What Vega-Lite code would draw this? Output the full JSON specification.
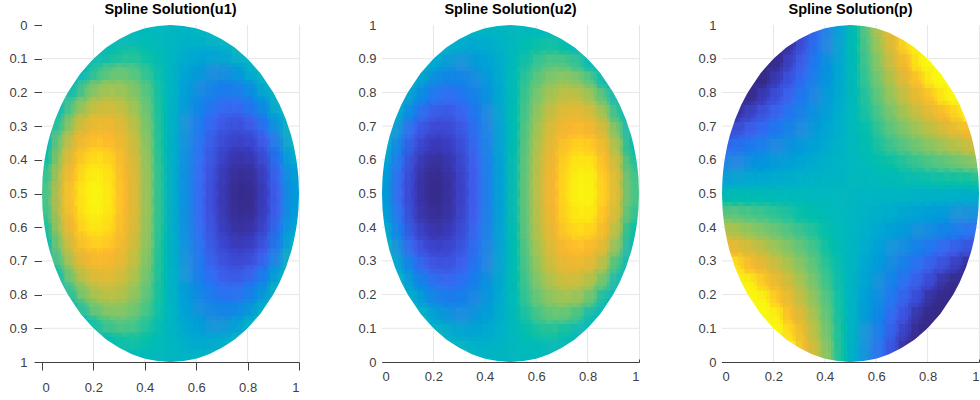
{"$schema":"https://vega.github.io/schema/vega-lite/v6.json","padding":{"left":8,"top":1,"right":1,"bottom":1},"background":"white","bounds":"flush","spacing":83,
"config":{"view":{"stroke":"#e6e6e6"},"font":"Liberation Sans","axis":{"labelFont":"Liberation Sans","labelFontSize":13,"labelColor":"#404040","domainColor":"#404040","tickColor":"#404040","grid":false,"format":".1~f","zindex":1},"title":{"font":"Liberation Sans","fontSize":14.5,"fontWeight":"bold","color":"#000000","offset":2}},
"datasets":{
"cells":[
{"x":0.275,"y":0.975,"u1":0,"u2":0,"p":-1},{"x":0.325,"y":0.975,"u1":0,"u2":0,"p":-0.78},{"x":0.375,"y":0.975,"u1":0.02,"u2":-0.02,"p":-0.56},{"x":0.425,"y":0.975,"u1":0.03,"u2":-0.03,"p":-0.34},{"x":0.475,"y":0.975,"u1":0.01,"u2":-0.01,"p":-0.11},{"x":0.525,"y":0.975,"u1":-0.01,"u2":0.01,"p":0.11},{"x":0.575,"y":0.975,"u1":-0.03,"u2":0.03,"p":0.34},{"x":0.625,"y":0.975,"u1":-0.02,"u2":0.02,"p":0.56},{"x":0.675,"y":0.975,"u1":0,"u2":0,"p":0.78},{"x":0.725,"y":0.975,"u1":0,"u2":0,"p":1},
{"x":0.225,"y":0.925,"u1":0,"u2":0,"p":-1},{"x":0.275,"y":0.925,"u1":0.09,"u2":-0.09,"p":-0.9},{"x":0.325,"y":0.925,"u1":0.14,"u2":-0.14,"p":-0.7},{"x":0.375,"y":0.925,"u1":0.14,"u2":-0.14,"p":-0.5},{"x":0.425,"y":0.925,"u1":0.1,"u2":-0.1,"p":-0.3},{"x":0.475,"y":0.925,"u1":0.04,"u2":-0.04,"p":-0.1},{"x":0.525,"y":0.925,"u1":-0.04,"u2":0.04,"p":0.1},{"x":0.575,"y":0.925,"u1":-0.1,"u2":0.1,"p":0.3},{"x":0.625,"y":0.925,"u1":-0.14,"u2":0.14,"p":0.5},{"x":0.675,"y":0.925,"u1":-0.14,"u2":0.14,"p":0.7},{"x":0.725,"y":0.925,"u1":-0.09,"u2":0.09,"p":0.9},{"x":0.775,"y":0.925,"u1":0,"u2":0,"p":1},
{"x":0.125,"y":0.875,"u1":0,"u2":0,"p":-1},{"x":0.175,"y":0.875,"u1":0.02,"u2":-0.02,"p":-1},{"x":0.225,"y":0.875,"u1":0.19,"u2":-0.19,"p":-0.97},{"x":0.275,"y":0.875,"u1":0.27,"u2":-0.27,"p":-0.79},{"x":0.325,"y":0.875,"u1":0.29,"u2":-0.29,"p":-0.62},{"x":0.375,"y":0.875,"u1":0.24,"u2":-0.24,"p":-0.44},{"x":0.425,"y":0.875,"u1":0.16,"u2":-0.16,"p":-0.26},{"x":0.475,"y":0.875,"u1":0.06,"u2":-0.06,"p":-0.09},{"x":0.525,"y":0.875,"u1":-0.06,"u2":0.06,"p":0.09},{"x":0.575,"y":0.875,"u1":-0.16,"u2":0.16,"p":0.26},{"x":0.625,"y":0.875,"u1":-0.24,"u2":0.24,"p":0.44},{"x":0.675,"y":0.875,"u1":-0.29,"u2":0.29,"p":0.62},{"x":0.725,"y":0.875,"u1":-0.27,"u2":0.27,"p":0.79},{"x":0.775,"y":0.875,"u1":-0.19,"u2":0.19,"p":0.97},{"x":0.825,"y":0.875,"u1":-0.02,"u2":0.02,"p":1},{"x":0.875,"y":0.875,"u1":0,"u2":0,"p":1},
{"x":0.125,"y":0.825,"u1":0.03,"u2":-0.03,"p":-1},{"x":0.175,"y":0.825,"u1":0.26,"u2":-0.26,"p":-0.99},{"x":0.225,"y":0.825,"u1":0.39,"u2":-0.39,"p":-0.84},{"x":0.275,"y":0.825,"u1":0.44,"u2":-0.44,"p":-0.69},{"x":0.325,"y":0.825,"u1":0.41,"u2":-0.41,"p":-0.54},{"x":0.375,"y":0.825,"u1":0.33,"u2":-0.33,"p":-0.38},{"x":0.425,"y":0.825,"u1":0.22,"u2":-0.22,"p":-0.23},{"x":0.475,"y":0.825,"u1":0.07,"u2":-0.07,"p":-0.08},{"x":0.525,"y":0.825,"u1":-0.07,"u2":0.07,"p":0.08},{"x":0.575,"y":0.825,"u1":-0.22,"u2":0.22,"p":0.23},{"x":0.625,"y":0.825,"u1":-0.33,"u2":0.33,"p":0.38},{"x":0.675,"y":0.825,"u1":-0.41,"u2":0.41,"p":0.54},{"x":0.725,"y":0.825,"u1":-0.44,"u2":0.44,"p":0.69},{"x":0.775,"y":0.825,"u1":-0.39,"u2":0.39,"p":0.84},{"x":0.825,"y":0.825,"u1":-0.26,"u2":0.26,"p":0.99},{"x":0.875,"y":0.825,"u1":-0.03,"u2":0.03,"p":1},
{"x":0.075,"y":0.775,"u1":0,"u2":0,"p":-1},{"x":0.125,"y":0.775,"u1":0.26,"u2":-0.26,"p":-0.97},{"x":0.175,"y":0.775,"u1":0.46,"u2":-0.46,"p":-0.84},{"x":0.225,"y":0.775,"u1":0.56,"u2":-0.56,"p":-0.71},{"x":0.275,"y":0.775,"u1":0.58,"u2":-0.58,"p":-0.58},{"x":0.325,"y":0.775,"u1":0.52,"u2":-0.52,"p":-0.45},{"x":0.375,"y":0.775,"u1":0.41,"u2":-0.41,"p":-0.32},{"x":0.425,"y":0.775,"u1":0.26,"u2":-0.26,"p":-0.19},{"x":0.475,"y":0.775,"u1":0.09,"u2":-0.09,"p":-0.06},{"x":0.525,"y":0.775,"u1":-0.09,"u2":0.09,"p":0.06},{"x":0.575,"y":0.775,"u1":-0.26,"u2":0.26,"p":0.19},{"x":0.625,"y":0.775,"u1":-0.41,"u2":0.41,"p":0.32},{"x":0.675,"y":0.775,"u1":-0.52,"u2":0.52,"p":0.45},{"x":0.725,"y":0.775,"u1":-0.58,"u2":0.58,"p":0.58},{"x":0.775,"y":0.775,"u1":-0.56,"u2":0.56,"p":0.71},{"x":0.825,"y":0.775,"u1":-0.46,"u2":0.46,"p":0.84},{"x":0.875,"y":0.775,"u1":-0.26,"u2":0.26,"p":0.97},{"x":0.925,"y":0.775,"u1":0,"u2":0,"p":1},
{"x":0.025,"y":0.725,"u1":0,"u2":0,"p":-1},{"x":0.075,"y":0.725,"u1":0.17,"u2":-0.17,"p":-0.9},{"x":0.125,"y":0.725,"u1":0.46,"u2":-0.46,"p":-0.79},{"x":0.175,"y":0.725,"u1":0.63,"u2":-0.63,"p":-0.69},{"x":0.225,"y":0.725,"u1":0.71,"u2":-0.71,"p":-0.58},{"x":0.275,"y":0.725,"u1":0.7,"u2":-0.7,"p":-0.48},{"x":0.325,"y":0.725,"u1":0.61,"u2":-0.61,"p":-0.37},{"x":0.375,"y":0.725,"u1":0.48,"u2":-0.48,"p":-0.26},{"x":0.425,"y":0.725,"u1":0.3,"u2":-0.3,"p":-0.16},{"x":0.475,"y":0.725,"u1":0.1,"u2":-0.1,"p":-0.05},{"x":0.525,"y":0.725,"u1":-0.1,"u2":0.1,"p":0.05},{"x":0.575,"y":0.725,"u1":-0.3,"u2":0.3,"p":0.16},{"x":0.625,"y":0.725,"u1":-0.48,"u2":0.48,"p":0.26},{"x":0.675,"y":0.725,"u1":-0.61,"u2":0.61,"p":0.37},{"x":0.725,"y":0.725,"u1":-0.7,"u2":0.7,"p":0.48},{"x":0.775,"y":0.725,"u1":-0.71,"u2":0.71,"p":0.58},{"x":0.825,"y":0.725,"u1":-0.63,"u2":0.63,"p":0.69},{"x":0.875,"y":0.725,"u1":-0.46,"u2":0.46,"p":0.79},{"x":0.925,"y":0.725,"u1":-0.17,"u2":0.17,"p":0.9},{"x":0.975,"y":0.725,"u1":0,"u2":0,"p":1},
{"x":0.025,"y":0.675,"u1":0,"u2":0,"p":-0.78},{"x":0.075,"y":0.675,"u1":0.34,"u2":-0.34,"p":-0.7},{"x":0.125,"y":0.675,"u1":0.61,"u2":-0.61,"p":-0.62},{"x":0.175,"y":0.675,"u1":0.77,"u2":-0.77,"p":-0.54},{"x":0.225,"y":0.675,"u1":0.82,"u2":-0.82,"p":-0.45},{"x":0.275,"y":0.675,"u1":0.79,"u2":-0.79,"p":-0.37},{"x":0.325,"y":0.675,"u1":0.69,"u2":-0.69,"p":-0.29},{"x":0.375,"y":0.675,"u1":0.53,"u2":-0.53,"p":-0.21},{"x":0.425,"y":0.675,"u1":0.33,"u2":-0.33,"p":-0.12},{"x":0.475,"y":0.675,"u1":0.11,"u2":-0.11,"p":-0.04},{"x":0.525,"y":0.675,"u1":-0.11,"u2":0.11,"p":0.04},{"x":0.575,"y":0.675,"u1":-0.33,"u2":0.33,"p":0.12},{"x":0.625,"y":0.675,"u1":-0.53,"u2":0.53,"p":0.21},{"x":0.675,"y":0.675,"u1":-0.69,"u2":0.69,"p":0.29},{"x":0.725,"y":0.675,"u1":-0.79,"u2":0.79,"p":0.37},{"x":0.775,"y":0.675,"u1":-0.82,"u2":0.82,"p":0.45},{"x":0.825,"y":0.675,"u1":-0.77,"u2":0.77,"p":0.54},{"x":0.875,"y":0.675,"u1":-0.61,"u2":0.61,"p":0.62},{"x":0.925,"y":0.675,"u1":-0.34,"u2":0.34,"p":0.7},{"x":0.975,"y":0.675,"u1":0,"u2":0,"p":0.78},
{"x":0.025,"y":0.625,"u1":0.09,"u2":-0.09,"p":-0.56},{"x":0.075,"y":0.625,"u1":0.47,"u2":-0.47,"p":-0.5},{"x":0.125,"y":0.625,"u1":0.73,"u2":-0.73,"p":-0.44},{"x":0.175,"y":0.625,"u1":0.87,"u2":-0.87,"p":-0.38},{"x":0.225,"y":0.625,"u1":0.91,"u2":-0.91,"p":-0.32},{"x":0.275,"y":0.625,"u1":0.86,"u2":-0.86,"p":-0.26},{"x":0.325,"y":0.625,"u1":0.74,"u2":-0.74,"p":-0.21},{"x":0.375,"y":0.625,"u1":0.57,"u2":-0.57,"p":-0.15},{"x":0.425,"y":0.625,"u1":0.36,"u2":-0.36,"p":-0.09},{"x":0.475,"y":0.625,"u1":0.12,"u2":-0.12,"p":-0.03},{"x":0.525,"y":0.625,"u1":-0.12,"u2":0.12,"p":0.03},{"x":0.575,"y":0.625,"u1":-0.36,"u2":0.36,"p":0.09},{"x":0.625,"y":0.625,"u1":-0.57,"u2":0.57,"p":0.15},{"x":0.675,"y":0.625,"u1":-0.74,"u2":0.74,"p":0.21},{"x":0.725,"y":0.625,"u1":-0.86,"u2":0.86,"p":0.26},{"x":0.775,"y":0.625,"u1":-0.91,"u2":0.91,"p":0.32},{"x":0.825,"y":0.625,"u1":-0.87,"u2":0.87,"p":0.38},{"x":0.875,"y":0.625,"u1":-0.73,"u2":0.73,"p":0.44},{"x":0.925,"y":0.625,"u1":-0.47,"u2":0.47,"p":0.5},{"x":0.975,"y":0.625,"u1":-0.09,"u2":0.09,"p":0.56},
{"x":0.025,"y":0.575,"u1":0.19,"u2":-0.19,"p":-0.34},{"x":0.075,"y":0.575,"u1":0.56,"u2":-0.56,"p":-0.3},{"x":0.125,"y":0.575,"u1":0.81,"u2":-0.81,"p":-0.26},{"x":0.175,"y":0.575,"u1":0.94,"u2":-0.94,"p":-0.23},{"x":0.225,"y":0.575,"u1":0.96,"u2":-0.96,"p":-0.19},{"x":0.275,"y":0.575,"u1":0.91,"u2":-0.91,"p":-0.16},{"x":0.325,"y":0.575,"u1":0.78,"u2":-0.78,"p":-0.12},{"x":0.375,"y":0.575,"u1":0.6,"u2":-0.6,"p":-0.09},{"x":0.425,"y":0.575,"u1":0.37,"u2":-0.37,"p":-0.05},{"x":0.475,"y":0.575,"u1":0.13,"u2":-0.13,"p":-0.02},{"x":0.525,"y":0.575,"u1":-0.13,"u2":0.13,"p":0.02},{"x":0.575,"y":0.575,"u1":-0.37,"u2":0.37,"p":0.05},{"x":0.625,"y":0.575,"u1":-0.6,"u2":0.6,"p":0.09},{"x":0.675,"y":0.575,"u1":-0.78,"u2":0.78,"p":0.12},{"x":0.725,"y":0.575,"u1":-0.91,"u2":0.91,"p":0.16},{"x":0.775,"y":0.575,"u1":-0.96,"u2":0.96,"p":0.19},{"x":0.825,"y":0.575,"u1":-0.94,"u2":0.94,"p":0.23},{"x":0.875,"y":0.575,"u1":-0.81,"u2":0.81,"p":0.26},{"x":0.925,"y":0.575,"u1":-0.56,"u2":0.56,"p":0.3},{"x":0.975,"y":0.575,"u1":-0.19,"u2":0.19,"p":0.34},
{"x":0.025,"y":0.525,"u1":0.24,"u2":-0.24,"p":-0.11},{"x":0.075,"y":0.525,"u1":0.61,"u2":-0.61,"p":-0.1},{"x":0.125,"y":0.525,"u1":0.85,"u2":-0.85,"p":-0.09},{"x":0.175,"y":0.525,"u1":0.97,"u2":-0.97,"p":-0.08},{"x":0.225,"y":0.525,"u1":0.99,"u2":-0.99,"p":-0.06},{"x":0.275,"y":0.525,"u1":0.93,"u2":-0.93,"p":-0.05},{"x":0.325,"y":0.525,"u1":0.8,"u2":-0.8,"p":-0.04},{"x":0.375,"y":0.525,"u1":0.61,"u2":-0.61,"p":-0.03},{"x":0.425,"y":0.525,"u1":0.38,"u2":-0.38,"p":-0.02},{"x":0.475,"y":0.525,"u1":0.13,"u2":-0.13,"p":-0.01},{"x":0.525,"y":0.525,"u1":-0.13,"u2":0.13,"p":0.01},{"x":0.575,"y":0.525,"u1":-0.38,"u2":0.38,"p":0.02},{"x":0.625,"y":0.525,"u1":-0.61,"u2":0.61,"p":0.03},{"x":0.675,"y":0.525,"u1":-0.8,"u2":0.8,"p":0.04},{"x":0.725,"y":0.525,"u1":-0.93,"u2":0.93,"p":0.05},{"x":0.775,"y":0.525,"u1":-0.99,"u2":0.99,"p":0.06},{"x":0.825,"y":0.525,"u1":-0.97,"u2":0.97,"p":0.08},{"x":0.875,"y":0.525,"u1":-0.85,"u2":0.85,"p":0.09},{"x":0.925,"y":0.525,"u1":-0.61,"u2":0.61,"p":0.1},{"x":0.975,"y":0.525,"u1":-0.24,"u2":0.24,"p":0.11},
{"x":0.025,"y":0.475,"u1":0.24,"u2":-0.24,"p":0.11},{"x":0.075,"y":0.475,"u1":0.61,"u2":-0.61,"p":0.1},{"x":0.125,"y":0.475,"u1":0.85,"u2":-0.85,"p":0.09},{"x":0.175,"y":0.475,"u1":0.97,"u2":-0.97,"p":0.08},{"x":0.225,"y":0.475,"u1":0.99,"u2":-0.99,"p":0.06},{"x":0.275,"y":0.475,"u1":0.93,"u2":-0.93,"p":0.05},{"x":0.325,"y":0.475,"u1":0.8,"u2":-0.8,"p":0.04},{"x":0.375,"y":0.475,"u1":0.61,"u2":-0.61,"p":0.03},{"x":0.425,"y":0.475,"u1":0.38,"u2":-0.38,"p":0.02},{"x":0.475,"y":0.475,"u1":0.13,"u2":-0.13,"p":0.01},{"x":0.525,"y":0.475,"u1":-0.13,"u2":0.13,"p":-0.01},{"x":0.575,"y":0.475,"u1":-0.38,"u2":0.38,"p":-0.02},{"x":0.625,"y":0.475,"u1":-0.61,"u2":0.61,"p":-0.03},{"x":0.675,"y":0.475,"u1":-0.8,"u2":0.8,"p":-0.04},{"x":0.725,"y":0.475,"u1":-0.93,"u2":0.93,"p":-0.05},{"x":0.775,"y":0.475,"u1":-0.99,"u2":0.99,"p":-0.06},{"x":0.825,"y":0.475,"u1":-0.97,"u2":0.97,"p":-0.08},{"x":0.875,"y":0.475,"u1":-0.85,"u2":0.85,"p":-0.09},{"x":0.925,"y":0.475,"u1":-0.61,"u2":0.61,"p":-0.1},{"x":0.975,"y":0.475,"u1":-0.24,"u2":0.24,"p":-0.11},
{"x":0.025,"y":0.425,"u1":0.19,"u2":-0.19,"p":0.34},{"x":0.075,"y":0.425,"u1":0.56,"u2":-0.56,"p":0.3},{"x":0.125,"y":0.425,"u1":0.81,"u2":-0.81,"p":0.26},{"x":0.175,"y":0.425,"u1":0.94,"u2":-0.94,"p":0.23},{"x":0.225,"y":0.425,"u1":0.96,"u2":-0.96,"p":0.19},{"x":0.275,"y":0.425,"u1":0.91,"u2":-0.91,"p":0.16},{"x":0.325,"y":0.425,"u1":0.78,"u2":-0.78,"p":0.12},{"x":0.375,"y":0.425,"u1":0.6,"u2":-0.6,"p":0.09},{"x":0.425,"y":0.425,"u1":0.37,"u2":-0.37,"p":0.05},{"x":0.475,"y":0.425,"u1":0.13,"u2":-0.13,"p":0.02},{"x":0.525,"y":0.425,"u1":-0.13,"u2":0.13,"p":-0.02},{"x":0.575,"y":0.425,"u1":-0.37,"u2":0.37,"p":-0.05},{"x":0.625,"y":0.425,"u1":-0.6,"u2":0.6,"p":-0.09},{"x":0.675,"y":0.425,"u1":-0.78,"u2":0.78,"p":-0.12},{"x":0.725,"y":0.425,"u1":-0.91,"u2":0.91,"p":-0.16},{"x":0.775,"y":0.425,"u1":-0.96,"u2":0.96,"p":-0.19},{"x":0.825,"y":0.425,"u1":-0.94,"u2":0.94,"p":-0.23},{"x":0.875,"y":0.425,"u1":-0.81,"u2":0.81,"p":-0.26},{"x":0.925,"y":0.425,"u1":-0.56,"u2":0.56,"p":-0.3},{"x":0.975,"y":0.425,"u1":-0.19,"u2":0.19,"p":-0.34},
{"x":0.025,"y":0.375,"u1":0.09,"u2":-0.09,"p":0.56},{"x":0.075,"y":0.375,"u1":0.47,"u2":-0.47,"p":0.5},{"x":0.125,"y":0.375,"u1":0.73,"u2":-0.73,"p":0.44},{"x":0.175,"y":0.375,"u1":0.87,"u2":-0.87,"p":0.38},{"x":0.225,"y":0.375,"u1":0.91,"u2":-0.91,"p":0.32},{"x":0.275,"y":0.375,"u1":0.86,"u2":-0.86,"p":0.26},{"x":0.325,"y":0.375,"u1":0.74,"u2":-0.74,"p":0.21},{"x":0.375,"y":0.375,"u1":0.57,"u2":-0.57,"p":0.15},{"x":0.425,"y":0.375,"u1":0.36,"u2":-0.36,"p":0.09},{"x":0.475,"y":0.375,"u1":0.12,"u2":-0.12,"p":0.03},{"x":0.525,"y":0.375,"u1":-0.12,"u2":0.12,"p":-0.03},{"x":0.575,"y":0.375,"u1":-0.36,"u2":0.36,"p":-0.09},{"x":0.625,"y":0.375,"u1":-0.57,"u2":0.57,"p":-0.15},{"x":0.675,"y":0.375,"u1":-0.74,"u2":0.74,"p":-0.21},{"x":0.725,"y":0.375,"u1":-0.86,"u2":0.86,"p":-0.26},{"x":0.775,"y":0.375,"u1":-0.91,"u2":0.91,"p":-0.32},{"x":0.825,"y":0.375,"u1":-0.87,"u2":0.87,"p":-0.38},{"x":0.875,"y":0.375,"u1":-0.73,"u2":0.73,"p":-0.44},{"x":0.925,"y":0.375,"u1":-0.47,"u2":0.47,"p":-0.5},{"x":0.975,"y":0.375,"u1":-0.09,"u2":0.09,"p":-0.56},
{"x":0.025,"y":0.325,"u1":0,"u2":0,"p":0.78},{"x":0.075,"y":0.325,"u1":0.34,"u2":-0.34,"p":0.7},{"x":0.125,"y":0.325,"u1":0.61,"u2":-0.61,"p":0.62},{"x":0.175,"y":0.325,"u1":0.77,"u2":-0.77,"p":0.54},{"x":0.225,"y":0.325,"u1":0.82,"u2":-0.82,"p":0.45},{"x":0.275,"y":0.325,"u1":0.79,"u2":-0.79,"p":0.37},{"x":0.325,"y":0.325,"u1":0.69,"u2":-0.69,"p":0.29},{"x":0.375,"y":0.325,"u1":0.53,"u2":-0.53,"p":0.21},{"x":0.425,"y":0.325,"u1":0.33,"u2":-0.33,"p":0.12},{"x":0.475,"y":0.325,"u1":0.11,"u2":-0.11,"p":0.04},{"x":0.525,"y":0.325,"u1":-0.11,"u2":0.11,"p":-0.04},{"x":0.575,"y":0.325,"u1":-0.33,"u2":0.33,"p":-0.12},{"x":0.625,"y":0.325,"u1":-0.53,"u2":0.53,"p":-0.21},{"x":0.675,"y":0.325,"u1":-0.69,"u2":0.69,"p":-0.29},{"x":0.725,"y":0.325,"u1":-0.79,"u2":0.79,"p":-0.37},{"x":0.775,"y":0.325,"u1":-0.82,"u2":0.82,"p":-0.45},{"x":0.825,"y":0.325,"u1":-0.77,"u2":0.77,"p":-0.54},{"x":0.875,"y":0.325,"u1":-0.61,"u2":0.61,"p":-0.62},{"x":0.925,"y":0.325,"u1":-0.34,"u2":0.34,"p":-0.7},{"x":0.975,"y":0.325,"u1":0,"u2":0,"p":-0.78},
{"x":0.025,"y":0.275,"u1":0,"u2":0,"p":1},{"x":0.075,"y":0.275,"u1":0.17,"u2":-0.17,"p":0.9},{"x":0.125,"y":0.275,"u1":0.46,"u2":-0.46,"p":0.79},{"x":0.175,"y":0.275,"u1":0.63,"u2":-0.63,"p":0.69},{"x":0.225,"y":0.275,"u1":0.71,"u2":-0.71,"p":0.58},{"x":0.275,"y":0.275,"u1":0.7,"u2":-0.7,"p":0.48},{"x":0.325,"y":0.275,"u1":0.61,"u2":-0.61,"p":0.37},{"x":0.375,"y":0.275,"u1":0.48,"u2":-0.48,"p":0.26},{"x":0.425,"y":0.275,"u1":0.3,"u2":-0.3,"p":0.16},{"x":0.475,"y":0.275,"u1":0.1,"u2":-0.1,"p":0.05},{"x":0.525,"y":0.275,"u1":-0.1,"u2":0.1,"p":-0.05},{"x":0.575,"y":0.275,"u1":-0.3,"u2":0.3,"p":-0.16},{"x":0.625,"y":0.275,"u1":-0.48,"u2":0.48,"p":-0.26},{"x":0.675,"y":0.275,"u1":-0.61,"u2":0.61,"p":-0.37},{"x":0.725,"y":0.275,"u1":-0.7,"u2":0.7,"p":-0.48},{"x":0.775,"y":0.275,"u1":-0.71,"u2":0.71,"p":-0.58},{"x":0.825,"y":0.275,"u1":-0.63,"u2":0.63,"p":-0.69},{"x":0.875,"y":0.275,"u1":-0.46,"u2":0.46,"p":-0.79},{"x":0.925,"y":0.275,"u1":-0.17,"u2":0.17,"p":-0.9},{"x":0.975,"y":0.275,"u1":0,"u2":0,"p":-1},
{"x":0.075,"y":0.225,"u1":0,"u2":0,"p":1},{"x":0.125,"y":0.225,"u1":0.26,"u2":-0.26,"p":0.97},{"x":0.175,"y":0.225,"u1":0.46,"u2":-0.46,"p":0.84},{"x":0.225,"y":0.225,"u1":0.56,"u2":-0.56,"p":0.71},{"x":0.275,"y":0.225,"u1":0.58,"u2":-0.58,"p":0.58},{"x":0.325,"y":0.225,"u1":0.52,"u2":-0.52,"p":0.45},{"x":0.375,"y":0.225,"u1":0.41,"u2":-0.41,"p":0.32},{"x":0.425,"y":0.225,"u1":0.26,"u2":-0.26,"p":0.19},{"x":0.475,"y":0.225,"u1":0.09,"u2":-0.09,"p":0.06},{"x":0.525,"y":0.225,"u1":-0.09,"u2":0.09,"p":-0.06},{"x":0.575,"y":0.225,"u1":-0.26,"u2":0.26,"p":-0.19},{"x":0.625,"y":0.225,"u1":-0.41,"u2":0.41,"p":-0.32},{"x":0.675,"y":0.225,"u1":-0.52,"u2":0.52,"p":-0.45},{"x":0.725,"y":0.225,"u1":-0.58,"u2":0.58,"p":-0.58},{"x":0.775,"y":0.225,"u1":-0.56,"u2":0.56,"p":-0.71},{"x":0.825,"y":0.225,"u1":-0.46,"u2":0.46,"p":-0.84},{"x":0.875,"y":0.225,"u1":-0.26,"u2":0.26,"p":-0.97},{"x":0.925,"y":0.225,"u1":0,"u2":0,"p":-1},
{"x":0.125,"y":0.175,"u1":0.03,"u2":-0.03,"p":1},{"x":0.175,"y":0.175,"u1":0.26,"u2":-0.26,"p":0.99},{"x":0.225,"y":0.175,"u1":0.39,"u2":-0.39,"p":0.84},{"x":0.275,"y":0.175,"u1":0.44,"u2":-0.44,"p":0.69},{"x":0.325,"y":0.175,"u1":0.41,"u2":-0.41,"p":0.54},{"x":0.375,"y":0.175,"u1":0.33,"u2":-0.33,"p":0.38},{"x":0.425,"y":0.175,"u1":0.22,"u2":-0.22,"p":0.23},{"x":0.475,"y":0.175,"u1":0.07,"u2":-0.07,"p":0.08},{"x":0.525,"y":0.175,"u1":-0.07,"u2":0.07,"p":-0.08},{"x":0.575,"y":0.175,"u1":-0.22,"u2":0.22,"p":-0.23},{"x":0.625,"y":0.175,"u1":-0.33,"u2":0.33,"p":-0.38},{"x":0.675,"y":0.175,"u1":-0.41,"u2":0.41,"p":-0.54},{"x":0.725,"y":0.175,"u1":-0.44,"u2":0.44,"p":-0.69},{"x":0.775,"y":0.175,"u1":-0.39,"u2":0.39,"p":-0.84},{"x":0.825,"y":0.175,"u1":-0.26,"u2":0.26,"p":-0.99},{"x":0.875,"y":0.175,"u1":-0.03,"u2":0.03,"p":-1},
{"x":0.125,"y":0.125,"u1":0,"u2":0,"p":1},{"x":0.175,"y":0.125,"u1":0.02,"u2":-0.02,"p":1},{"x":0.225,"y":0.125,"u1":0.19,"u2":-0.19,"p":0.97},{"x":0.275,"y":0.125,"u1":0.27,"u2":-0.27,"p":0.79},{"x":0.325,"y":0.125,"u1":0.29,"u2":-0.29,"p":0.62},{"x":0.375,"y":0.125,"u1":0.24,"u2":-0.24,"p":0.44},{"x":0.425,"y":0.125,"u1":0.16,"u2":-0.16,"p":0.26},{"x":0.475,"y":0.125,"u1":0.06,"u2":-0.06,"p":0.09},{"x":0.525,"y":0.125,"u1":-0.06,"u2":0.06,"p":-0.09},{"x":0.575,"y":0.125,"u1":-0.16,"u2":0.16,"p":-0.26},{"x":0.625,"y":0.125,"u1":-0.24,"u2":0.24,"p":-0.44},{"x":0.675,"y":0.125,"u1":-0.29,"u2":0.29,"p":-0.62},{"x":0.725,"y":0.125,"u1":-0.27,"u2":0.27,"p":-0.79},{"x":0.775,"y":0.125,"u1":-0.19,"u2":0.19,"p":-0.97},{"x":0.825,"y":0.125,"u1":-0.02,"u2":0.02,"p":-1},{"x":0.875,"y":0.125,"u1":0,"u2":0,"p":-1},
{"x":0.225,"y":0.075,"u1":0,"u2":0,"p":1},{"x":0.275,"y":0.075,"u1":0.09,"u2":-0.09,"p":0.9},{"x":0.325,"y":0.075,"u1":0.14,"u2":-0.14,"p":0.7},{"x":0.375,"y":0.075,"u1":0.14,"u2":-0.14,"p":0.5},{"x":0.425,"y":0.075,"u1":0.1,"u2":-0.1,"p":0.3},{"x":0.475,"y":0.075,"u1":0.04,"u2":-0.04,"p":0.1},{"x":0.525,"y":0.075,"u1":-0.04,"u2":0.04,"p":-0.1},{"x":0.575,"y":0.075,"u1":-0.1,"u2":0.1,"p":-0.3},{"x":0.625,"y":0.075,"u1":-0.14,"u2":0.14,"p":-0.5},{"x":0.675,"y":0.075,"u1":-0.14,"u2":0.14,"p":-0.7},{"x":0.725,"y":0.075,"u1":-0.09,"u2":0.09,"p":-0.9},{"x":0.775,"y":0.075,"u1":0,"u2":0,"p":-1},
{"x":0.275,"y":0.025,"u1":0,"u2":0,"p":1},{"x":0.325,"y":0.025,"u1":0,"u2":0,"p":0.78},{"x":0.375,"y":0.025,"u1":0.02,"u2":-0.02,"p":0.56},{"x":0.425,"y":0.025,"u1":0.03,"u2":-0.03,"p":0.34},{"x":0.475,"y":0.025,"u1":0.01,"u2":-0.01,"p":0.11},{"x":0.525,"y":0.025,"u1":-0.01,"u2":0.01,"p":-0.11},{"x":0.575,"y":0.025,"u1":-0.03,"u2":0.03,"p":-0.34},{"x":0.625,"y":0.025,"u1":-0.02,"u2":0.02,"p":-0.56},{"x":0.675,"y":0.025,"u1":0,"u2":0,"p":-0.78},{"x":0.725,"y":0.025,"u1":0,"u2":0,"p":-1}
],
"edgeTop":[{"x":0,"y":0.5},{"x":0.002,"y":0.545},{"x":0.005,"y":0.57},{"x":0.01,"y":0.6},{"x":0.02,"y":0.64},{"x":0.03,"y":0.671},{"x":0.05,"y":0.718},{"x":0.075,"y":0.763},{"x":0.1,"y":0.8},{"x":0.15,"y":0.857},{"x":0.2,"y":0.9},{"x":0.25,"y":0.933},{"x":0.3,"y":0.958},{"x":0.35,"y":0.977},{"x":0.4,"y":0.99},{"x":0.45,"y":0.997},{"x":0.5,"y":1},{"x":0.55,"y":0.997},{"x":0.6,"y":0.99},{"x":0.65,"y":0.977},{"x":0.7,"y":0.958},{"x":0.75,"y":0.933},{"x":0.8,"y":0.9},{"x":0.85,"y":0.857},{"x":0.9,"y":0.8},{"x":0.925,"y":0.763},{"x":0.95,"y":0.718},{"x":0.97,"y":0.671},{"x":0.98,"y":0.64},{"x":0.99,"y":0.6},{"x":0.995,"y":0.57},{"x":0.998,"y":0.545},{"x":1,"y":0.5}],
"edgeBot":[{"x":0,"y":0.5},{"x":0.002,"y":0.455},{"x":0.005,"y":0.43},{"x":0.01,"y":0.4},{"x":0.02,"y":0.36},{"x":0.03,"y":0.329},{"x":0.05,"y":0.282},{"x":0.075,"y":0.237},{"x":0.1,"y":0.2},{"x":0.15,"y":0.143},{"x":0.2,"y":0.1},{"x":0.25,"y":0.067},{"x":0.3,"y":0.042},{"x":0.35,"y":0.023},{"x":0.4,"y":0.01},{"x":0.45,"y":0.003},{"x":0.5,"y":0},{"x":0.55,"y":0.003},{"x":0.6,"y":0.01},{"x":0.65,"y":0.023},{"x":0.7,"y":0.042},{"x":0.75,"y":0.067},{"x":0.8,"y":0.1},{"x":0.85,"y":0.143},{"x":0.9,"y":0.2},{"x":0.925,"y":0.237},{"x":0.95,"y":0.282},{"x":0.97,"y":0.329},{"x":0.98,"y":0.36},{"x":0.99,"y":0.4},{"x":0.995,"y":0.43},{"x":0.998,"y":0.455},{"x":1,"y":0.5}],
"gridV":[{"x":0.2,"y":0,"y2":0.1},{"x":0.2,"y":0.9,"y2":1},{"x":0.4,"y":0,"y2":0.01},{"x":0.4,"y":0.99,"y2":1},{"x":0.6,"y":0,"y2":0.01},{"x":0.6,"y":0.99,"y2":1},{"x":0.8,"y":0,"y2":0.1},{"x":0.8,"y":0.9,"y2":1}],
"gridH":[{"y":0.1,"x":0,"x2":0.2},{"y":0.1,"x":0.8,"x2":1},{"y":0.2,"x":0,"x2":0.1},{"y":0.2,"x":0.9,"x2":1},{"y":0.3,"x":0,"x2":0.042},{"y":0.3,"x":0.958,"x2":1},{"y":0.4,"x":0,"x2":0.01},{"y":0.4,"x":0.99,"x2":1},{"y":0.6,"x":0,"x2":0.01},{"y":0.6,"x":0.99,"x2":1},{"y":0.7,"x":0,"x2":0.042},{"y":0.7,"x":0.958,"x2":1},{"y":0.8,"x":0,"x2":0.1},{"y":0.8,"x":0.9,"x2":1},{"y":0.9,"x":0,"x2":0.2},{"y":0.9,"x":0.8,"x2":1}]
},
"hconcat":[
{"width":257,"height":337,"title":"Spline Solution(u1)",
"encoding":{"x":{"field":"x","type":"quantitative","scale":{"domain":[0,1],"nice":false},"axis":{"title":null,"tickSize":8,"labelPadding":11,"labelAngle":0,"values":[0,0.2,0.4,0.6,0.8,1]}},"y":{"field":"y","type":"quantitative","scale":{"domain":[0,1],"nice":false,"reverse":true},"axis":{"title":null,"tickSize":8,"labelPadding":7,"values":[0,0.1,0.2,0.3,0.4,0.5,0.6,0.7,0.8,0.9,1]}}},
"layer":[
{"data":{"name":"cells"},"mark":{"type":"rect","width":13.4,"height":17.4,"clip":true},"encoding":{"color":{"field":"u1","type":"quantitative","legend":null,"scale":{"domain":[-1,-0.85,-0.6,-0.3,0,0.2,0.4,0.6,0.8,1],"range":["#352a87","#3a3fc8","#3d68f5","#2a8fdc","#0db7c0","#35c491","#8cc663","#d2bc3c","#fdb52f","#f8fa10"]}}}},
{"data":{"name":"cells"},"mark":{"type":"rect","width":25.7,"height":33.7,"clip":true,"opacity":0.5},"encoding":{"color":{"field":"u1","type":"quantitative"}}},
{"data":{"name":"cells"},"mark":{"type":"rect","width":19.3,"height":25.3,"clip":true,"opacity":0.5},"encoding":{"color":{"field":"u1","type":"quantitative"}}},
{"data":{"name":"edgeTop"},"mark":{"type":"area","color":"white"},"encoding":{"y2":{"datum":1}}},
{"data":{"name":"edgeBot"},"mark":{"type":"area","color":"white"},"encoding":{"y2":{"datum":0}}},
{"data":{"name":"gridV"},"mark":{"type":"rule","color":"#e6e6e6"},"encoding":{"y2":{"field":"y2"}}},
{"data":{"name":"gridH"},"mark":{"type":"rule","color":"#e6e6e6"},"encoding":{"x2":{"field":"x2"}}}
]},
{"width":257,"height":337,"title":"Spline Solution(u2)",
"encoding":{"x":{"field":"x","type":"quantitative","scale":{"domain":[0,1],"nice":false},"axis":{"title":null,"tickSize":-3,"labelPadding":11,"labelAngle":0,"values":[0,0.2,0.4,0.6,0.8,1]}},"y":{"field":"y","type":"quantitative","scale":{"domain":[0,1],"nice":false},"axis":{"title":null,"tickSize":-3,"labelPadding":9,"values":[0,0.1,0.2,0.3,0.4,0.5,0.6,0.7,0.8,0.9,1]}}},
"layer":[
{"data":{"name":"cells"},"mark":{"type":"rect","width":13.4,"height":17.4,"clip":true},"encoding":{"color":{"field":"u2","type":"quantitative","legend":null,"scale":{"domain":[-1,-0.85,-0.6,-0.3,0,0.2,0.4,0.6,0.8,1],"range":["#352a87","#3a3fc8","#3d68f5","#2a8fdc","#0db7c0","#35c491","#8cc663","#d2bc3c","#fdb52f","#f8fa10"]}}}},
{"data":{"name":"cells"},"mark":{"type":"rect","width":25.7,"height":33.7,"clip":true,"opacity":0.5},"encoding":{"color":{"field":"u2","type":"quantitative"}}},
{"data":{"name":"cells"},"mark":{"type":"rect","width":19.3,"height":25.3,"clip":true,"opacity":0.5},"encoding":{"color":{"field":"u2","type":"quantitative"}}},
{"data":{"name":"edgeTop"},"mark":{"type":"area","color":"white"},"encoding":{"y2":{"datum":1}}},
{"data":{"name":"edgeBot"},"mark":{"type":"area","color":"white"},"encoding":{"y2":{"datum":0}}},
{"data":{"name":"gridV"},"mark":{"type":"rule","color":"#e6e6e6"},"encoding":{"y2":{"field":"y2"}}},
{"data":{"name":"gridH"},"mark":{"type":"rule","color":"#e6e6e6"},"encoding":{"x2":{"field":"x2"}}}
]},
{"width":257,"height":337,"title":"Spline Solution(p)",
"encoding":{"x":{"field":"x","type":"quantitative","scale":{"domain":[0,1],"nice":false},"axis":{"title":null,"tickSize":-3,"labelPadding":11,"labelAngle":0,"values":[0,0.2,0.4,0.6,0.8,1]}},"y":{"field":"y","type":"quantitative","scale":{"domain":[0,1],"nice":false},"axis":{"title":null,"tickSize":-3,"labelPadding":9,"domainColor":"#000000","values":[0,0.1,0.2,0.3,0.4,0.5,0.6,0.7,0.8,0.9,1]}}},
"layer":[
{"data":{"name":"cells"},"mark":{"type":"rect","width":13.4,"height":17.4,"clip":true},"encoding":{"color":{"field":"p","type":"quantitative","legend":null,"scale":{"domain":[-1,-0.85,-0.6,-0.3,0,0.2,0.4,0.6,0.8,1],"range":["#352a87","#3a3fc8","#3d68f5","#2a8fdc","#0db7c0","#35c491","#8cc663","#d2bc3c","#fdb52f","#f8fa10"]}}}},
{"data":{"name":"cells"},"mark":{"type":"rect","width":25.7,"height":33.7,"clip":true,"opacity":0.5},"encoding":{"color":{"field":"p","type":"quantitative"}}},
{"data":{"name":"cells"},"mark":{"type":"rect","width":19.3,"height":25.3,"clip":true,"opacity":0.5},"encoding":{"color":{"field":"p","type":"quantitative"}}},
{"data":{"name":"edgeTop"},"mark":{"type":"area","color":"white"},"encoding":{"y2":{"datum":1}}},
{"data":{"name":"edgeBot"},"mark":{"type":"area","color":"white"},"encoding":{"y2":{"datum":0}}},
{"data":{"name":"gridV"},"mark":{"type":"rule","color":"#e6e6e6"},"encoding":{"y2":{"field":"y2"}}},
{"data":{"name":"gridH"},"mark":{"type":"rule","color":"#e6e6e6"},"encoding":{"x2":{"field":"x2"}}}
]}
]}
